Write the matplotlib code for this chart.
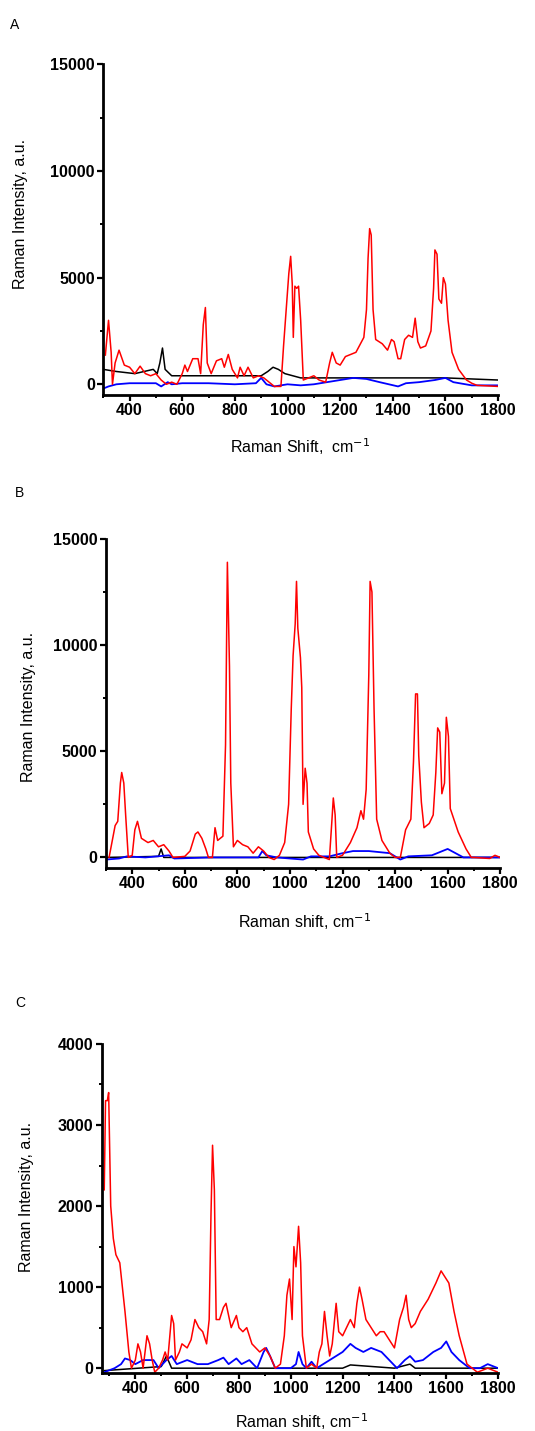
import numpy as np
import matplotlib
matplotlib.use("Agg")
import matplotlib.pyplot as plt
from matplotlib.ticker import MultipleLocator

plt.rcParams['font.family'] = ['Liberation Sans', 'DejaVu Sans']

# ---- Panel A: spectra (wavenumber, intensity) ----
aRedX = [308, 320, 330, 335, 345, 360, 380, 400, 420, 440, 460, 480, 500, 520, 540,
         560, 580, 600, 610, 620, 640, 660, 670, 680, 688, 695, 710, 730, 750, 760,
         775, 790, 810, 820, 835, 850, 870, 890, 910, 930, 950, 975, 985, 995, 1005,
         1012, 1018, 1022, 1028, 1035, 1042, 1050, 1060, 1080, 1100, 1120, 1145, 1160,
         1170, 1185, 1200, 1220, 1260, 1290, 1300, 1306, 1312, 1318, 1325, 1335, 1360,
         1380, 1395, 1405, 1420, 1430, 1445, 1460, 1475, 1485, 1495, 1505, 1525, 1545,
         1555, 1560, 1568, 1575, 1585, 1592, 1600, 1610, 1625, 1650, 1680, 1700, 1720, 1800]
aRedY = [1370, 3000, 1500, 0, 1000, 1600, 900, 800, 500, 850, 500, 400, 500, 200, 0,
         100, 0, 500, 900, 600, 1200, 1200, 500, 2800, 3600, 1000, 500, 1100, 1200, 800,
         1400, 700, 300, 800, 400, 800, 300, 400, 300, 100, -100, -100, 1800, 3500, 5200,
         6000, 4700, 2200, 4600, 4500, 4600, 3000, 200, 300, 400, 200, 100, 1000,
         1500, 1000, 900, 1300, 1500, 2200, 3500, 5900, 7300, 7000, 3500, 2100, 1900,
         1600, 2100, 2000, 1200, 1200, 2100, 2300, 2200, 3100, 2000, 1700, 1800, 2500,
         4500, 6300, 6100, 4000, 3800, 5000, 4700, 3000, 1500, 700, 200, 50, -50, -100]
aBlkX = [300, 350, 420, 490, 505, 515, 525, 535, 560, 650, 800, 900, 925, 945, 965,
         990, 1050, 1200, 1400, 1600, 1800]
aBlkY = [700, 600, 500, 700, 500, 1000, 1700, 700, 400, 400, 400, 400, 600, 800, 700,
         500, 300, 300, 300, 300, 200]
aBluX = [300, 320, 350, 400, 500, 520, 545, 560, 600, 700, 800, 880, 900, 920, 950,
         1000, 1050, 1100, 1150, 1200, 1250, 1300, 1350, 1420, 1450, 1500, 1560, 1600,
         1630, 1700, 1800]
aBluY = [-200, -100, 0, 50, 50, -100, 100, 0, 50, 50, 0, 50, 300, 0, -100,
         0, -50, 0, 100, 200, 300, 250, 100, -100, 50, 100, 200, 300,
         100, -50, -50]

# ---- Panel B ----
bRedX = [312, 335, 345, 355, 360, 368, 375, 385, 400, 410, 420, 435, 460, 480, 500,
         520, 540, 555, 600, 620, 640, 650, 665, 680, 690, 705, 715, 725, 745, 755,
         762, 770, 775, 785, 800, 820, 840, 860, 880, 900, 920, 940, 960, 980, 995,
         1005, 1012, 1020, 1025, 1030, 1040, 1045, 1050, 1058, 1065, 1070, 1090, 1110,
         1130, 1150, 1160, 1165, 1172, 1178, 1200, 1230, 1255, 1270, 1280, 1290, 1300,
         1305, 1312, 1320, 1330, 1350, 1380, 1400, 1420, 1440, 1460, 1470, 1478, 1485,
         1490, 1500, 1510, 1530, 1545, 1555, 1562, 1570, 1578, 1588, 1595, 1603, 1610,
         1640, 1670, 1690, 1700, 1760, 1780, 1800]
bRedY = [0, 1500, 1700, 3500, 4000, 3500, 2000, 0, 100, 1300, 1700, 900, 700, 800, 500,
         600, 300, 0, 50, 300, 1100, 1200, 900, 400, 0, 0, 1400, 800, 1000, 5300,
         13900, 9000, 3500, 500, 800, 600, 500, 200, 500, 300, 0, -100, 100, 700, 2500,
         7000, 9500, 11000, 13000, 10800, 9400, 8000, 2500, 4200, 3500, 1200, 400, 100,
         0, -100, 1800, 2800, 2000, 0, 100, 700, 1400, 2200, 1800, 3200, 8600,
         13000, 12500, 7000, 1800, 800, 200, 0, 0, 1300, 1800, 4500, 7700, 7700,
         4800, 2600, 1400, 1600, 2000, 4000, 6100, 5900, 3000, 3500, 6600, 5700, 2300,
         1200, 400, 0, 0, -50, 100, 0]
bBlkX = [300, 500, 510, 520, 1800]
bBlkY = [0, 50, 400, 0, 0]
bBluX = [300, 350, 380, 450, 540, 560, 700, 880, 895, 910, 950, 1000, 1050, 1080,
         1150, 1200, 1240, 1300, 1380, 1420, 1450, 1540, 1560, 1600, 1630, 1660, 1800]
bBluY = [-100, -50, 50, 0, 100, -50, 0, 0, 300, 100, 0, -50, -100, 50,
         50, 200, 300, 300, 200, -100, 50, 100, 200, 400, 200, 0, 0]

# ---- Panel C ----
cRedX = [280, 285, 292, 297, 305, 315, 325, 340, 350, 360, 375, 385, 400, 410, 420,
         430, 445, 455, 465, 475, 490, 505, 515, 525, 540, 548, 555, 570, 580, 600,
         615, 630, 645, 660, 675, 685, 692, 698, 705, 712, 725, 740, 750, 770, 790,
         800, 815, 830, 850, 880, 900, 920, 940, 960, 975, 985, 995, 1005, 1012, 1020,
         1030, 1038, 1045, 1060, 1080, 1100, 1110, 1120, 1130, 1140, 1150, 1160, 1175,
         1185, 1200, 1215, 1230, 1245, 1255, 1265, 1275, 1290, 1310, 1330, 1345, 1360,
         1380, 1400, 1420, 1435, 1445, 1455, 1465, 1480, 1500, 1530, 1560, 1580, 1600,
         1610, 1630, 1650, 1680, 1700, 1720, 1760, 1800]
cRedY = [2200, 3300, 3300, 3400, 2000, 1600, 1400, 1300, 1000, 700, 200, 0, 100, 300, 200,
         0, 400, 300, 100, -50, 0, 100, 200, 100, 650, 550, 100, 200, 300, 250,
         350, 600, 500, 450, 300, 600, 1900, 2750, 2200, 600, 600, 750, 800, 500, 650,
         500, 450, 500, 300, 200, 250, 150, 0, 50, 400, 900, 1100, 600, 1500, 1250,
         1750, 1300, 400, 0, 50, 0, 200, 300, 700, 400, 150, 300, 800,
         450, 400, 500, 600, 500, 800, 1000, 850, 600, 500, 400, 450, 450,
         350, 250, 600, 750, 900, 600, 500, 550, 700, 850, 1050, 1200, 1100,
         1050, 700, 400, 50, 0, -50, 0, -50]
cBlkX = [280, 500, 520, 540, 1200, 1230, 1400, 1460, 1480, 1800]
cBlkY = [-30, 20, 150, 0, 0, 40, 0, 50, 0, 0]
cBluX = [280, 320, 345, 360, 380, 400, 430, 470, 490, 520, 540, 560, 600, 640, 680,
         720, 740, 760, 790, 810, 840, 870, 895, 905, 920, 940, 1000, 1020, 1030,
         1045, 1060, 1080, 1100, 1150, 1200, 1230, 1250, 1280, 1310, 1350, 1380, 1410,
         1440, 1460, 1480, 1510, 1550, 1580, 1600, 1620, 1650, 1690, 1730, 1760, 1800]
cBluY = [-50, 0, 50, 120, 100, 50, 100, 100, 0, 100, 150, 50, 100, 50, 50,
         100, 130, 50, 120, 50, 100, 0, 200, 250, 150, 0, 0, 50, 200,
         50, 0, 80, 0, 100, 200, 300, 250, 200, 250, 200, 100, 0,
         100, 150, 80, 100, 200, 250, 330, 200, 100, 0, 0, 50, 0]

panels = [
    dict(letter='A', rect=[0.193, 0.724, 0.738, 0.231], xlim=(300, 1800), ylim=(-500, 15000),
         ymaj=5000, ymin=2500, xlab='Raman Shift,  cm$^{-1}$', ylab='Raman Intensity, a.u.',
         red=(aRedX, aRedY), blk=(aBlkX, aBlkY), blu=(aBluX, aBluY),
         lpos=(15, 25), xlpos=(300, 447), ylpos=(21, 214)),
    dict(letter='B', rect=[0.198, 0.3934, 0.737, 0.230], xlim=(300, 1800), ylim=(-500, 15000),
         ymaj=5000, ymin=2500, xlab='Raman shift, cm$^{-1}$', ylab='Raman Intensity, a.u.',
         red=(bRedX, bRedY), blk=(bBlkX, bBlkY), blu=(bBluX, bBluY),
         lpos=(20, 493), xlpos=(305, 922), ylpos=(29, 707)),
    dict(letter='C', rect=[0.19, 0.0405, 0.741, 0.230], xlim=(270, 1800), ylim=(-60, 4000),
         ymaj=1000, ymin=500, xlab='Raman shift, cm$^{-1}$', ylab='Raman Intensity, a.u.',
         red=(cRedX, cRedY), blk=(cBlkX, cBlkY), blu=(cBluX, cBluY),
         lpos=(20, 1003), xlpos=(302, 1422), ylpos=(27, 1197)),
]

W, H = 535, 1431
fig = plt.figure(figsize=(W / 100, H / 100), dpi=100)

for p in panels:
    ax = fig.add_axes(p['rect'])
    ax.plot(*p['blk'], color='black', lw=1.1)
    ax.plot(*p['blu'], color='#0000ff', lw=1.3)
    ax.plot(*p['red'], color='#ff0000', lw=1.1)
    ax.set_xlim(*p['xlim'])
    ax.set_ylim(*p['ylim'])
    ax.xaxis.set_minor_locator(MultipleLocator(100))
    ax.yaxis.set_major_locator(MultipleLocator(p['ymaj']))
    ax.yaxis.set_minor_locator(MultipleLocator(p['ymin']))
    ax.set_xticks([400, 600, 800, 1000, 1200, 1400, 1600, 1800])
    for s in ('top', 'right'):
        ax.spines[s].set_visible(False)
    for s in ('left', 'bottom'):
        ax.spines[s].set_linewidth(2.0)
    ax.tick_params(which='major', direction='out', length=4, width=1.6, labelsize=11.5, pad=2)
    ax.tick_params(which='minor', direction='out', length=2.5, width=1.4)
    for lbl in ax.get_xticklabels() + ax.get_yticklabels():
        lbl.set_fontweight('bold')
    fig.text(p['lpos'][0] / W, 1 - p['lpos'][1] / H, p['letter'], fontsize=10,
             ha='center', va='center')
    fig.text(p['xlpos'][0] / W, 1 - p['xlpos'][1] / H, p['xlab'], fontsize=11.5,
             ha='center', va='center')
    fig.text(p['ylpos'][0] / W, 1 - p['ylpos'][1] / H, p['ylab'], fontsize=11.5,
             ha='center', va='center', rotation=90)

fig.savefig('out.png', dpi=100)
